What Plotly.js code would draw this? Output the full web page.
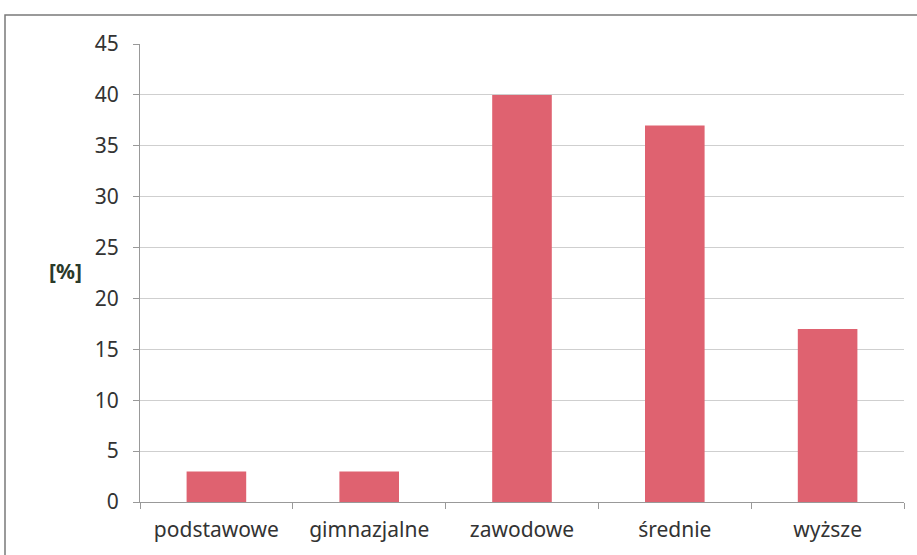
<!DOCTYPE html>
<html><head><meta charset="utf-8">
<script src="https://cdn.plot.ly/plotly-3.0.1.min.js"></script>
<style>html,body{margin:0;padding:0;background:#fff;}#c{width:917px;height:555px;}</style>
</head><body><div id="c"></div>
<script>
const categories = ["podstawowe", "gimnazjalne", "zawodowe", "średnie", "wyższe"];
const values = [3, 3, 40, 37, 17];
const yTicks = [0, 5, 10, 15, 20, 25, 30, 35, 40, 45];

const fnt = {family: "'Noto Sans', 'Open Sans', sans-serif", size: 21, color: "#333"};
Plotly.newPlot("c", [{
  type: "bar", x: categories, y: values,
  marker: {color: "#df6270"}, hoverinfo: "none"
}], {
  width: 917, height: 555,
  margin: {l: 140, r: 13, t: 44, b: 53},
  paper_bgcolor: "#fff", plot_bgcolor: "#fff",
  bargap: 0.61,
  showlegend: false,
  font: fnt,
  xaxis: {
    showgrid: false, showline: true, linecolor: "#999", linewidth: 1,
    ticks: "outside", tickson: "boundaries", ticklen: 6, tickcolor: "#999",
    tickfont: fnt, zeroline: false, ticklabelstandoff: 9
  },
  yaxis: {
    range: [0, 45], tickvals: yTicks, showgrid: true, gridcolor: "#cfcfcf",
    showline: true, linecolor: "#999", ticks: "outside", ticklen: 6, tickcolor: "#999",
    tickfont: fnt, zeroline: false, ticklabelstandoff: 10
  },
  annotations: [{
    text: "<b>[%]</b>", xref: "paper", yref: "paper", x: -0.098, y: 0.505,
    xanchor: "center", yanchor: "middle", showarrow: false,
    font: {family: "'Noto Sans', sans-serif", size: 21, color: "#2a3a2a"}
  }],
  shapes: [{
    type: "rect", xref: "paper", yref: "paper",
    x0: -0.1767, x1: 1.1, y0: -0.3, y1: 1.0633,
    line: {color: "#7a7a7a", width: 1.5}, fillcolor: "rgba(0,0,0,0)", layer: "below"
  }]
}, {staticPlot: true});
</script></body></html>
